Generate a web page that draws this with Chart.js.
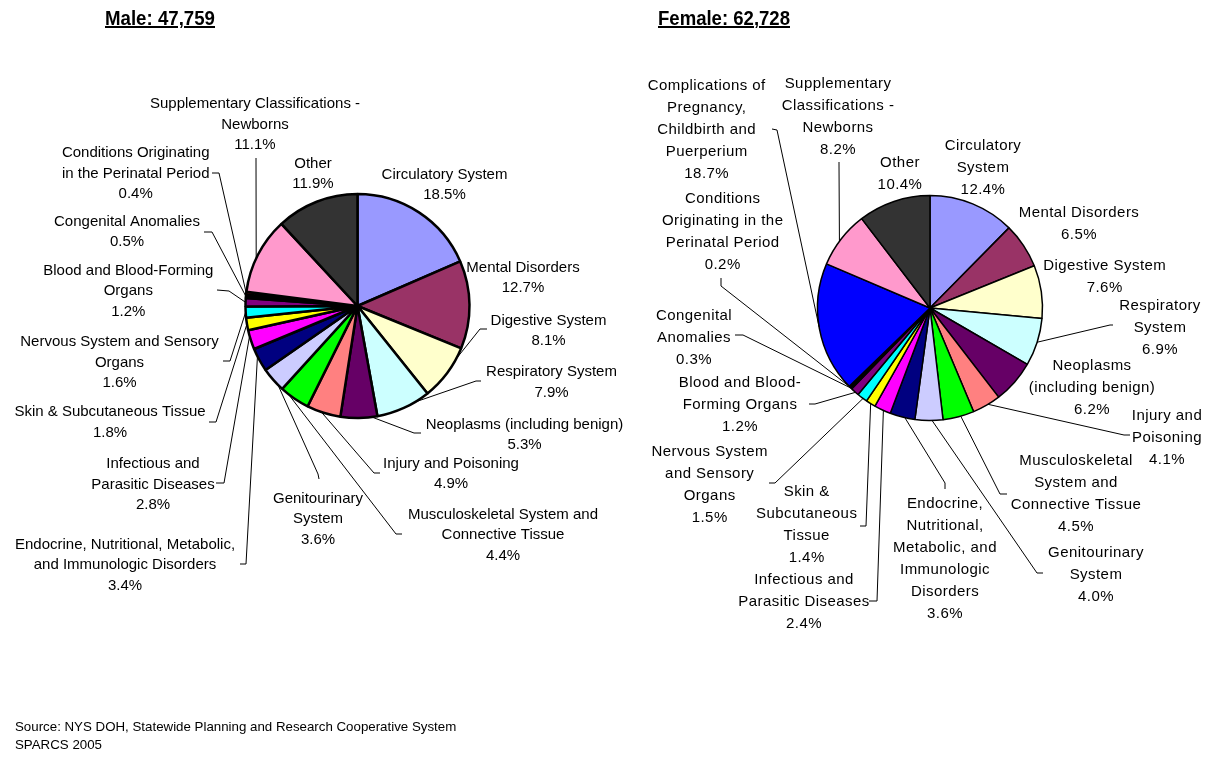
<!DOCTYPE html>
<html><head><meta charset="utf-8">
<script src="https://cdn.jsdelivr.net/npm/chart.js@4.4.1/dist/chart.umd.min.js"></script>
<style>
html,body{margin:0;padding:0;background:#fff;}
#wrap{position:relative;width:1214px;height:767px;overflow:hidden;background:#fff;}
canvas{position:absolute;left:0;top:0;}
.title{position:absolute;font-family:"Liberation Sans Narrow","Arial Narrow","Liberation Sans",Arial,sans-serif;font-weight:bold;font-size:20px;text-decoration:underline;white-space:nowrap;transform-origin:0 0;line-height:20px;color:#000}
.src{position:absolute;left:15px;font-family:"Liberation Sans",Arial,sans-serif;font-size:13.3px;color:#000;white-space:nowrap;line-height:18px}
</style></head>
<body><div id="wrap">
<canvas id="male" width="1214" height="767"></canvas>
<canvas id="female" width="1214" height="767"></canvas>
<div class="title" id="tMale" style="left:105px;top:8px">Male: 47,759</div>
<div class="title" id="tFemale" style="left:658px;top:8px">Female: 62,728</div>
<div class="src" style="top:718px">Source: NYS DOH, Statewide Planning and Research Cooperative System<br>SPARCS 2005</div>
</div>
<script>
// ---------- DATA ----------
const maleCategories = ['Circulatory System','Mental Disorders','Digestive System','Respiratory System','Neoplasms (including benign)','Injury and Poisoning','Musculoskeletal System and Connective Tissue','Genitourinary System','Endocrine, Nutritional, Metabolic, and Immunologic Disorders','Infectious and Parasitic Diseases','Skin & Subcutaneous Tissue','Nervous System and Sensory Organs','Blood and Blood-Forming Organs','Congenital Anomalies','Conditions Originating in the Perinatal Period','Supplementary Classifications - Newborns','Other'];
const maleValues = [18.5,12.7,8.1,7.9,5.3,4.9,4.4,3.6,3.4,2.8,1.8,1.6,1.2,0.5,0.4,11.1,11.9];

const femaleCategories = ['Circulatory System','Mental Disorders','Digestive System','Respiratory System','Neoplasms (including benign)','Injury and Poisoning','Musculoskeletal System and Connective Tissue','Genitourinary System','Endocrine, Nutritional, Metabolic, and Immunologic Disorders','Infectious and Parasitic Diseases','Skin & Subcutaneous Tissue','Nervous System and Sensory Organs','Blood and Blood-Forming Organs','Congenital Anomalies','Conditions Originating in the Perinatal Period','Complications of Pregnancy, Childbirth and Puerperium','Supplementary Classifications - Newborns','Other'];
const femaleValues = [12.4,6.5,7.6,6.9,6.2,4.1,4.5,4.0,3.6,2.4,1.4,1.5,1.2,0.3,0.2,18.7,8.2,10.4];

// ---------- STYLES / LAYOUT ----------
const categoryColors = {
  'Circulatory System':'#9999FF','Mental Disorders':'#993366','Digestive System':'#FFFFCC','Respiratory System':'#CCFFFF',
  'Neoplasms (including benign)':'#660066','Injury and Poisoning':'#FF8080','Musculoskeletal System and Connective Tissue':'#00FF00',
  'Genitourinary System':'#CCCCFF','Endocrine, Nutritional, Metabolic, and Immunologic Disorders':'#000080',
  'Infectious and Parasitic Diseases':'#FF00FF','Skin & Subcutaneous Tissue':'#FFFF00','Nervous System and Sensory Organs':'#00FFFF',
  'Blood and Blood-Forming Organs':'#800080','Congenital Anomalies':'#000000','Conditions Originating in the Perinatal Period':'#FF0000',
  'Complications of Pregnancy, Childbirth and Puerperium':'#0000FF','Supplementary Classifications - Newborns':'#FF99CC','Other':'#333333'
};

const maleLabelLayout = [
  {lines:['Circulatory System'], x:444.5, y:173},
  {lines:['Mental Disorders'], x:523, y:266},
  {lines:['Digestive System'], x:548.5, y:319.3, lead:[[487,329],[480,329]], at:0.2},
  {lines:['Respiratory System'], x:551.5, y:370.5, lead:[[481,381],[476,381]], at:0.27},
  {lines:['Neoplasms (including benign)'], x:524.5, y:423, lead:[[421,433],[414,433]], at:0.15},
  {lines:['Injury and Poisoning'], x:451, y:462, lead:[[380,473],[374,473]], at:0.57},
  {lines:['Musculoskeletal System and','Connective Tissue'], x:503, y:513.3, lead:[[402,534],[396,534]], at:0.74},
  {lines:['Genitourinary','System'], x:318, y:497, lead:[[319,479],[318,474]], at:0.23},
  {lines:['Endocrine, Nutritional, Metabolic,','and Immunologic Disorders'], x:125, y:543.3, lead:[[240,564],[246,564]], at:0.66},
  {lines:['Infectious and','Parasitic Diseases'], x:153, y:462.7, lead:[[216,483],[224,483]], at:0.7},
  {lines:['Skin & Subcutaneous Tissue'], x:110, y:410.7, lead:[[209,422],[216,422]], at:0.5},
  {lines:['Nervous System and Sensory','Organs'], x:119.5, y:340.7, lead:[[223,361],[230,361]], at:0.5},
  {lines:['Blood and Blood-Forming','Organs'], x:128.3, y:269.3, lead:[[217,290],[229,291]], at:0.5},
  {lines:['Congenital Anomalies'], x:127, y:220, lead:[[204,232],[212,232]], at:0.5},
  {lines:['Conditions Originating','in the Perinatal Period'], x:135.7, y:151.7, lead:[[212,173],[219,173]], at:0.5},
  {lines:['Supplementary Classifications -','Newborns'], x:255, y:102.5, lead:[[256,158],[256,160]], at:0.45},
  {lines:['Other'], x:313, y:162}
];

const femaleLabelLayout = [
  {lines:['Circulatory','System'], x:983, y:144},
  {lines:['Mental Disorders'], x:1079, y:211.7},
  {lines:['Digestive System'], x:1104.7, y:264},
  {lines:['Respiratory','System'], x:1160, y:304, lead:[[1113,325],[1110,325]], at:0.5},
  {lines:['Neoplasms','(including benign)'], x:1092, y:364},
  {lines:['Injury and','Poisoning'], x:1167, y:414, lead:[[1130,435],[1124,435]], at:0.44},
  {lines:['Musculoskeletal','System and','Connective Tissue'], x:1076, y:459.3, lead:[[1007,494],[1000,494]], at:0.43},
  {lines:['Genitourinary','System'], x:1096, y:551.7, lead:[[1043,573],[1037,573]], at:0.39},
  {lines:['Endocrine,','Nutritional,','Metabolic, and','Immunologic','Disorders'], x:945, y:502.7, lead:[[945,489],[945,483]], at:0.4},
  {lines:['Infectious and','Parasitic Diseases'], x:804, y:578.3, lead:[[869,601],[877,601]], at:0.44},
  {lines:['Skin &','Subcutaneous','Tissue'], x:806.7, y:490.7, lead:[[860,526],[866,526]], at:0.5},
  {lines:['Nervous System','and Sensory','Organs'], x:709.7, y:450, lead:[[769,483],[775,483]], at:0.4},
  {lines:['Blood and Blood-','Forming Organs'], x:740, y:381.7, lead:[[809,404],[815,404]], at:0.4},
  {lines:['Congenital','Anomalies'], x:694, y:314, lead:[[735,335],[743,335]], at:0.5},
  {lines:['Conditions','Originating in the','Perinatal Period'], x:722.7, y:197.3, lead:[[721,278],[721,286]], at:0.5},
  {lines:['Complications of','Pregnancy,','Childbirth and','Puerperium'], x:706.7, y:84, lead:[[772,129],[777,130]], at:0.51},
  {lines:['Supplementary','Classifications -','Newborns'], x:838, y:82.7, lead:[[839,162],[839,164]], at:0.45},
  {lines:['Other'], x:900, y:161.7}
];

const W = 1214, H = 767;

const labelPlugin = {
  id: 'pieLabels',
  afterDatasetsDraw(chart, args, opts) {
    const ctx = chart.ctx;
    const meta = chart.getDatasetMeta(0);
    const values = chart.data.datasets[0].data;
    ctx.save();
    ctx.strokeStyle = '#000';
    ctx.lineWidth = 1;
    opts.layout.forEach((L, i) => {
      if (!L.lead) return;
      const arc = meta.data[i];
      const p = arc.getProps(['x','y','startAngle','endAngle','outerRadius'], true);
      const a = p.startAngle + L.at * (p.endAngle - p.startAngle);
      const ax = p.x + p.outerRadius * Math.cos(a), ay = p.y + p.outerRadius * Math.sin(a);
      ctx.beginPath();
      ctx.moveTo(L.lead[0][0], L.lead[0][1]);
      ctx.lineTo(L.lead[1][0], L.lead[1][1]);
      ctx.lineTo(ax, ay);
      ctx.stroke();
    });
    ctx.font = opts.font;
    if ('letterSpacing' in ctx) ctx.letterSpacing = opts.letterSpacing || '0px';
    ctx.fillStyle = '#000';
    ctx.textAlign = 'center';
    ctx.textBaseline = 'middle';
    opts.layout.forEach((L, i) => {
      const lines = L.lines.concat([values[i].toFixed(1) + '%']);
      lines.forEach((t, k) => ctx.fillText(t, L.x, L.y + opts.textShift + k * opts.lineHeight));
    });
    ctx.restore();
  }
};

function makePie(id, cats, vals, layout, cx, cy, r, border, font, ls, lh) {
  return new Chart(document.getElementById(id), {
    type: 'pie',
    data: {
      labels: cats,
      datasets: [{
        data: vals,
        backgroundColor: cats.map(c => categoryColors[c]),
        borderColor: '#000',
        borderWidth: border,
        radius: r
      }]
    },
    options: {
      responsive: false,
      animation: false,
      events: [],
      devicePixelRatio: 1,
      layout: { padding: { left: cx - r, right: W - (cx + r), top: cy - r, bottom: H - (cy + r) } },
      plugins: {
        legend: { display: false },
        tooltip: { enabled: false },
        pieLabels: { layout: layout, font: font, letterSpacing: ls, lineHeight: lh, textShift: 1.5 }
      }
    },
    plugins: [labelPlugin]
  });
}

makePie('male', maleCategories, maleValues, maleLabelLayout, 357.5, 306, 112, 2.5,
        '15px "Liberation Sans", Arial, sans-serif', '0px', 20.5);
makePie('female', femaleCategories, femaleValues, femaleLabelLayout, 930, 308, 112.5, 1.5,
        '15px "Liberation Sans", Arial, sans-serif', '0.45px', 22);

[['tMale', 110], ['tFemale', 132]].forEach(([id, w]) => {
  const el = document.getElementById(id);
  const cw = el.getBoundingClientRect().width;
  if (cw > 0) el.style.transform = 'scaleX(' + (w / cw) + ')';
});
</script>
</body></html>
